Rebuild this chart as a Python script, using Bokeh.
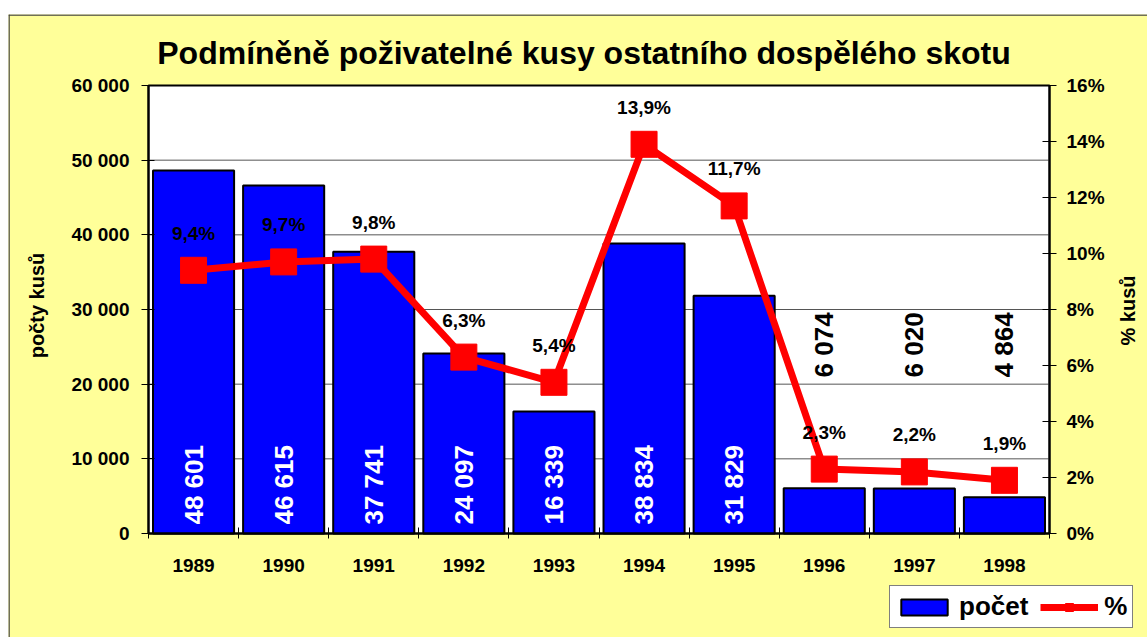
import math
from bokeh.plotting import figure
from bokeh.models import (Range1d, LinearAxis, FixedTicker, Legend, LegendItem, Label)
from bokeh.core.properties import value
from bokeh.embed import file_html
from bokeh.resources import INLINE

# ---------------- data ----------------
years = ["1989", "1990", "1991", "1992", "1993", "1994", "1995", "1996", "1997", "1998"]
counts = [48601, 46615, 37741, 24097, 16339, 38834, 31829, 6074, 6020, 4864]
pct = [9.4, 9.7, 9.8, 6.3, 5.4, 13.9, 11.7, 2.3, 2.2, 1.9]
count_ticks = [0, 10000, 20000, 30000, 40000, 50000, 60000]
pct_ticks = [0, 2, 4, 6, 8, 10, 12, 14, 16]
title_text = "Podmíněně poživatelné kusy ostatního dospělého skotu"
left_label = "počty kusů"
right_label = "% kusů"
legend_labels = ["počet", "%"]

FONT = "Liberation Sans"
YELLOW = "#FFFF99"

# ---------------- layout (canvas pixels) ----------------
W, H = 1139, 623             # chart area, placed at page offset (8, 14)
PL, PT = 140, 71             # plot-area top-left inside the canvas
PW, PH = 901, 448            # plot-area size

n = len(years)
xs = list(range(1, n + 1))
x0, x1 = 0.5, n + 0.5
y0, y1 = count_ticks[0], count_ticks[-1]
q0, q1 = pct_ticks[0], pct_ticks[-1]
xu = (x1 - x0) / PW           # data units per pixel
yu = (y1 - y0) / PH
qu = (q1 - q0) / PH


def cx(px):  # canvas x pixel -> data x
    return x0 + (px - PL) * xu


def cy(py):  # canvas y pixel -> data y (counts)
    return y1 + (PT - py) * yu


fmt_count = lambda v: f"{v:,}".replace(",", " ")
fmt_pct = lambda v: f"{v:.1f}".replace(".", ",") + "%"

p = figure(width=W, height=H,
           x_range=Range1d(cx(0), cx(W)), y_range=Range1d(cy(H), cy(0)),
           x_axis_type=None, y_axis_type=None,
           output_backend="svg", toolbar_location=None,
           min_border_left=0, min_border_right=0,
           min_border_top=0, min_border_bottom=0)
p.margin = (14, 0, 0, 8)
p.extra_y_ranges = {"pct": Range1d(q1 - (H - PT) * qu, q1 + PT * qu)}
p.border_fill_color = YELLOW
p.background_fill_color = YELLOW
p.outline_line_color = None

# chart-area border (left and top edges)
p.segment(x0=[cx(0.5), cx(0)], y0=[cy(0), cy(0.5)], x1=[cx(0.5), cx(W)], y1=[cy(H), cy(0.5)],
          line_color="#404040", line_width=1.5)

# plot area + grid lines
p.quad(left=x0, right=x1, bottom=y0, top=y1, fill_color="white",
       line_color="black", line_width=2, level="image")
p.segment(x0=[x0] * (len(count_ticks) - 2), x1=[x1] * (len(count_ticks) - 2),
          y0=count_ticks[1:-1], y1=count_ticks[1:-1],
          line_color="#555555", line_width=1, level="underlay")

# axes (drawn at fixed positions around the plot area)
yaxis = LinearAxis(ticker=FixedTicker(ticks=count_ticks), bounds=(y0, y1),
                   fixed_location=x0,
                   major_label_overrides={t: fmt_count(t) for t in count_ticks})
yaxis_r = LinearAxis(y_range_name="pct", ticker=FixedTicker(ticks=pct_ticks),
                     bounds=(q0, q1), fixed_location=x1,
                     major_label_overrides={t: f"{t}%" for t in pct_ticks})
xaxis = LinearAxis(ticker=FixedTicker(ticks=xs, minor_ticks=[x - 0.5 for x in xs] + [x1]),
                   bounds=(x0, x1), fixed_location=y0,
                   major_label_overrides={x: y for x, y in zip(xs, years)})

for ax in (yaxis, yaxis_r, xaxis):
    ax.axis_line_color = "black"
    ax.axis_line_width = 2
    ax.major_tick_line_color = "black"
    ax.major_tick_line_width = 1
    ax.minor_tick_line_color = None
    ax.major_label_text_font = FONT
    ax.major_label_text_font_style = "bold"
    ax.major_label_text_font_size = "19px"
    ax.major_label_text_color = "black"

yaxis.major_tick_in = 6
yaxis.major_tick_out = 7
yaxis.major_label_standoff = 12

yaxis_r.major_tick_in = 7
yaxis_r.major_tick_out = 7
yaxis_r.major_label_standoff = 10

xaxis.major_tick_in = 0
xaxis.major_tick_out = 0
xaxis.minor_tick_line_color = "black"
xaxis.minor_tick_in = 6
xaxis.minor_tick_out = 5
xaxis.major_label_standoff = 20

p.add_layout(yaxis, "left")
p.add_layout(yaxis_r, "right")
p.add_layout(xaxis, "below")

# bars
bars = p.vbar(x=xs, top=counts, width=0.9, fill_color="#0000FF",
              line_color="black", line_width=2)

# bar value labels (rotated)
inside = [i for i, v in enumerate(counts) if v >= 10000]
outside = [i for i, v in enumerate(counts) if v < 10000]
p.text(x=[xs[i] for i in inside], y=[1200] * len(inside),
       text=[fmt_count(counts[i]) for i in inside],
       angle=math.pi / 2, text_align="left", text_baseline="middle",
       text_font=value(FONT), text_font_style="bold", text_font_size="26px",
       text_color="white")
p.text(x=[xs[i] for i in outside], y=[20900] * len(outside),
       text=[fmt_count(counts[i]) for i in outside],
       angle=math.pi / 2, text_align="left", text_baseline="middle",
       text_font=value(FONT), text_font_style="bold", text_font_size="26px",
       text_color="black")

# percentage line
ln = p.line(x=xs, y=pct, y_range_name="pct", line_color="#FF0000", line_width=7)
sq = p.scatter(x=xs, y=pct, y_range_name="pct", marker="square", size=26,
               fill_color="#FF0000", line_color="#FF0000")
p.text(x=xs, y=pct, y_range_name="pct", text=[fmt_pct(v) for v in pct],
       y_offset=-37, text_align="center", text_baseline="middle",
       text_font=value(FONT), text_font_style="bold", text_font_size="19px",
       text_color="black")

# title and axis titles
p.add_layout(Label(x=cx(575.5), y=cy(38), text=title_text, text_align="center",
                   text_baseline="middle", text_font=FONT, text_font_style="bold",
                   text_font_size="32px", text_color="black"))
p.add_layout(Label(x=cx(28), y=cy(291), text=left_label, angle=math.pi / 2,
                   text_align="center", text_baseline="middle", text_font=FONT,
                   text_font_style="bold", text_font_size="20px", text_color="black"))
p.add_layout(Label(x=cx(1119), y=cy(296), text=right_label, angle=math.pi / 2,
                   text_align="center", text_baseline="middle", text_font=FONT,
                   text_font_style="bold", text_font_size="20px", text_color="black"))

# legend
legend = Legend(items=[LegendItem(label=legend_labels[0], renderers=[bars]),
                       LegendItem(label=legend_labels[1], renderers=[ln, sq])],
                location=(881, 9), orientation="horizontal",
                label_text_font=FONT, label_text_font_style="bold",
                label_text_font_size="26px", label_text_color="black",
                glyph_width=58, glyph_height=20, label_standoff=6, spacing=12,
                padding=5, margin=0, border_line_color="black", border_line_width=1,
                background_fill_color="white", background_fill_alpha=1)
p.add_layout(legend)

open("out.html", "w").write(file_html(p, INLINE))
